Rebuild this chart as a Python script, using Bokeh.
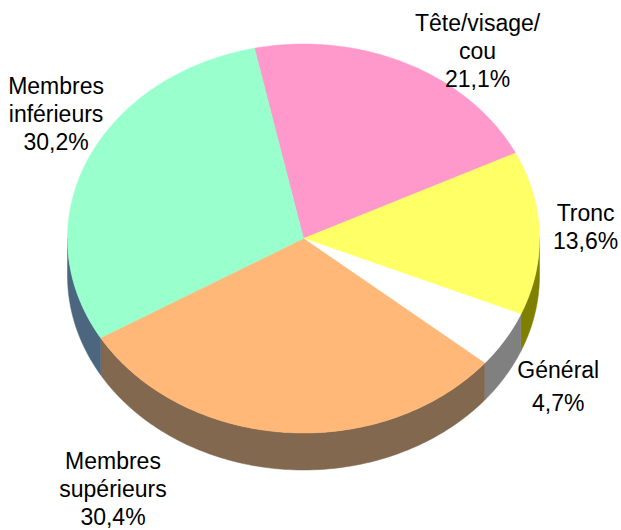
import numpy as np
from bokeh.plotting import figure
from bokeh.models import Range1d, ColumnDataSource
from bokeh.core.properties import value
from bokeh.embed import file_html
from bokeh.resources import INLINE

# ---- data ----
categories = ["Tête/visage/\ncou", "Tronc", "Général", "Membres\nsupérieurs", "Membres\ninférieurs"]
values = [21.1, 13.6, 4.7, 30.4, 30.2]

# ---- style ----
top_colors = ["#FF99CC", "#FFFF66", "#FFFFFF", "#FFB878", "#99FFCC"]
side_colors = ["#995C7A", "#808000", "#808080", "#82684E", "#4D6680"]

# ---- layout (pixels) ----
W, H = 621, 530
CX, CY = 303.0, 238.0      # centre of the top face
RX, RY = 236.0, 194.5      # radii of the top face
DEPTH = 37.0               # thickness of the pie
START = -12.0              # start angle, degrees clockwise from 12 o'clock
LABEL_K = 1.2              # radial factor for label anchors
label_nudge = [(50, 22), (-1, -5), (13, 26), (-168, 18), (12, -31)]
line_gap = [28, 28, 33, 28, 28]
FONT_PX = 23


def pt(theta_deg, dy=0.0):
    t = np.radians(theta_deg)
    return CX + RX * np.sin(t), CY - RY * np.cos(t) + dy


total = float(sum(values))
spans = [v / total * 360.0 for v in values]
starts = list(np.cumsum([START] + spans[:-1]))

top_xs, top_ys, side_xs, side_ys, side_fill = [], [], [], [], []
for i, (a, s) in enumerate(zip(starts, spans)):
    b = a + s
    th = np.linspace(a, b, max(int(s) + 2, 3))
    x, y = pt(th)
    top_xs.append([CX] + list(x))
    top_ys.append([CY] + list(y))
    # visible outer wall: front half (90..270 deg)
    aa, bb = a, b
    if aa < 0:
        aa, bb = aa + 360, bb + 360
    lo, hi = max(aa, 90.0), min(bb, 270.0)
    if hi > lo:
        th2 = np.linspace(lo, hi, max(int(hi - lo) + 2, 3))
        x1, y1 = pt(th2)
        x2, y2 = pt(th2[::-1], DEPTH)
        side_xs.append(list(x1) + list(x2))
        side_ys.append(list(y1) + list(y2))
        side_fill.append(side_colors[i])

p = figure(width=W, height=H, x_range=Range1d(0, W), y_range=Range1d(H, 0),
           output_backend="svg", toolbar_location=None,
           x_axis_location=None, y_axis_location=None, min_border=0)
p.grid.visible = False
p.outline_line_color = None
p.background_fill_color = "white"
p.border_fill_color = "white"

p.patches(xs="xs", ys="ys", fill_color="c", line_color="c", line_width=0.5,
          source=ColumnDataSource(dict(xs=side_xs, ys=side_ys, c=side_fill)))
p.patches(xs="xs", ys="ys", fill_color="c", line_color="c", line_width=0.5,
          source=ColumnDataSource(dict(xs=top_xs, ys=top_ys, c=top_colors)))

# labels
lx, ly, lt = [], [], []
for i, (cat, v) in enumerate(zip(categories, values)):
    mid = starts[i] + spans[i] / 2.0
    t = np.radians(mid)
    bx = CX + RX * LABEL_K * np.sin(t) + label_nudge[i][0]
    by = CY - RY * LABEL_K * np.cos(t) + label_nudge[i][1]
    lines = cat.split("\n") + [f"{v:.1f}".replace(".", ",") + "%"]
    n = len(lines)
    for j, ln in enumerate(lines):
        lx.append(bx)
        ly.append(by + (j - (n - 1) / 2.0) * line_gap[i])
        lt.append(ln)

p.text(x=lx, y=ly, text=lt, text_font=value("Liberation Sans"),
       text_font_size=f"{FONT_PX}px", text_align="center", text_baseline="middle",
       text_color="black")

open("out.html", "w").write(file_html(p, INLINE))
